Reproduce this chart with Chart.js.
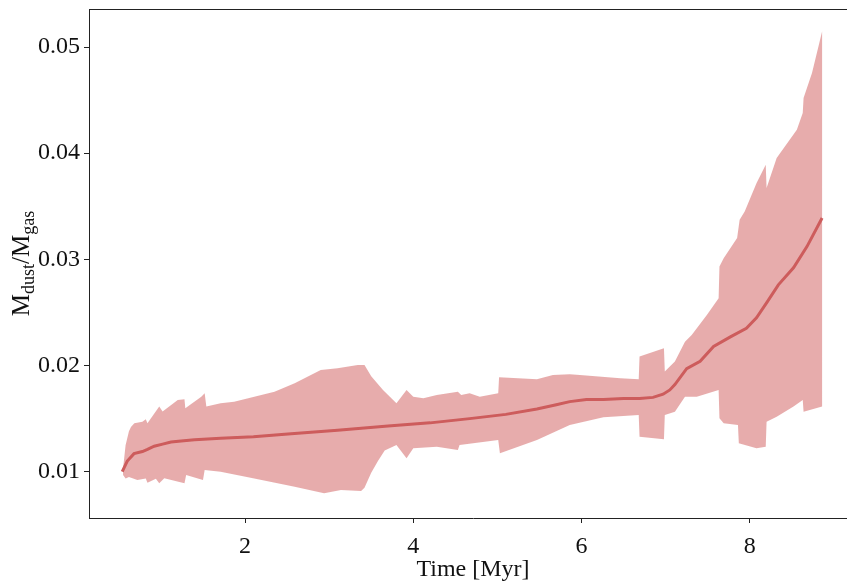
<!DOCTYPE html>
<html>
<head>
<meta charset="utf-8">
<script src="https://cdn.jsdelivr.net/npm/chart.js@4/dist/chart.umd.min.js"></script>
<style>
  html, body { margin: 0; padding: 0; background: #fff; overflow: hidden; width: 847px; height: 584px; }
  #wrap { position: absolute; left: 0; top: 0; width: 870px; height: 584px; }
</style>
</head>
<body>
<div id="wrap"><canvas id="c" width="870" height="584"></canvas></div>
<script>
// ---- data ----
const meanTime = [0.54, 0.60, 0.68, 0.78, 0.84, 0.92, 1.02, 1.12, 1.24, 1.40, 1.71, 2.10, 2.51, 3.10, 3.70, 4.20, 4.67, 5.10, 5.47, 5.70, 5.86, 6.06, 6.26, 6.50, 6.69, 6.85, 6.97, 7.05, 7.11, 7.25, 7.41, 7.57, 7.77, 7.96, 8.08, 8.20, 8.34, 8.52, 8.68, 8.86];
const meanRatio = [0.0100, 0.0110, 0.0117, 0.0119, 0.0121, 0.0124, 0.0126, 0.0128, 0.0129, 0.0130, 0.01315, 0.0133, 0.01355, 0.0139, 0.0143, 0.0146, 0.0150, 0.0154, 0.0159, 0.0163, 0.0166, 0.0168, 0.0168, 0.0169, 0.0169, 0.0170, 0.0173, 0.0177, 0.0182, 0.0197, 0.0204, 0.0218, 0.0227, 0.0235, 0.0245, 0.0259, 0.0276, 0.0292, 0.0312, 0.0339];

const upperTime = [0.55, 0.58, 0.62, 0.644, 0.684, 0.78, 0.82, 0.84, 0.98, 1.02, 1.20, 1.28, 1.29, 1.48, 1.52, 1.54, 1.71, 1.87, 2.11, 2.35, 2.59, 2.90, 3.10, 3.34, 3.42, 3.50, 3.64, 3.80, 3.92, 4.00, 4.12, 4.28, 4.53, 4.57, 4.67, 4.79, 5.01, 5.02, 5.47, 5.66, 5.86, 5.98, 6.46, 6.68, 6.69, 6.98, 6.99, 7.11, 7.23, 7.31, 7.49, 7.63, 7.64, 7.69, 7.85, 7.88, 7.94, 8.08, 8.19, 8.20, 8.32, 8.56, 8.63, 8.64, 8.74, 8.86];
const upperRatio = [0.0103, 0.0125, 0.0138, 0.0142, 0.01456, 0.01471, 0.01494, 0.01456, 0.01613, 0.01566, 0.01676, 0.01682, 0.01598, 0.01707, 0.01739, 0.01613, 0.01645, 0.0166, 0.01707, 0.01754, 0.01833, 0.01959, 0.01975, 0.02006, 0.02006, 0.0190, 0.0177, 0.01645, 0.0177, 0.01707, 0.01692, 0.01723, 0.01754, 0.01723, 0.01739, 0.01707, 0.01739, 0.0189, 0.01871, 0.01911, 0.01918, 0.01911, 0.0188, 0.0187, 0.02084, 0.02163, 0.01943, 0.02037, 0.02225, 0.02288, 0.02477, 0.02634, 0.02932, 0.03011, 0.032, 0.03372, 0.03451, 0.03718, 0.03891, 0.03671, 0.03954, 0.04221, 0.04378, 0.04519, 0.04755, 0.05147];

const lowerTime = [0.55, 0.58, 0.62, 0.72, 0.82, 0.84, 0.94, 0.98, 1.04, 1.28, 1.30, 1.50, 1.52, 1.71, 2.11, 2.59, 2.94, 3.14, 3.38, 3.42, 3.50, 3.58, 3.66, 3.80, 3.92, 4.00, 4.28, 4.53, 4.55, 5.01, 5.03, 5.47, 5.86, 6.26, 6.68, 6.69, 6.98, 6.99, 7.11, 7.23, 7.37, 7.63, 7.64, 7.69, 7.86, 7.87, 8.08, 8.19, 8.20, 8.32, 8.52, 8.63, 8.64, 8.86];
const lowerRatio = [0.0097, 0.00937, 0.0095, 0.00922, 0.00937, 0.00896, 0.00934, 0.00891, 0.00938, 0.00891, 0.00969, 0.00922, 0.01016, 0.0100, 0.00937, 0.00859, 0.00796, 0.00828, 0.00818, 0.0085, 0.0099, 0.0110, 0.0120, 0.01252, 0.01126, 0.01221, 0.01236, 0.01205, 0.01252, 0.01299, 0.01173, 0.01299, 0.0144, 0.01513, 0.01534, 0.0133, 0.01305, 0.01534, 0.01565, 0.01707, 0.01707, 0.0177, 0.01503, 0.01456, 0.0144, 0.01268, 0.0122, 0.01236, 0.01471, 0.01518, 0.01613, 0.01676, 0.01565, 0.01613];

const xTickValues = [2, 4, 6, 8];
const yTickValues = [0.01, 0.02, 0.03, 0.04, 0.05];
const xAxisTitle = 'Time [Myr]';
// y title parts: [text, isSubscript]
const yTitleParts = [['M', false], ['dust', true], ['/', false], ['M', false], ['gas', true]];

// ---- build datasets ----
const meanPoints = meanTime.map((t, i) => ({ x: t, y: meanRatio[i] }));
const bandPolygon = upperTime.map((t, i) => ({ x: t, y: upperRatio[i] }))
  .concat(lowerTime.map((t, i) => ({ x: t, y: lowerRatio[i] })).reverse());

const FONT = '"Liberation Serif", "Times New Roman", serif';

const framePlugin = {
  id: 'frame',
  afterDraw(chart) {
    const { ctx, chartArea: a } = chart;
    ctx.save();
    ctx.strokeStyle = '#222';
    ctx.lineWidth = 1;
    ctx.beginPath();
    ctx.moveTo(a.left, Math.round(a.top) + 0.5);
    ctx.lineTo(a.right, Math.round(a.top) + 0.5);
    ctx.lineTo(a.right, a.bottom);
    ctx.stroke();
    ctx.restore();
  }
};

const yTitlePlugin = {
  id: 'ytitle',
  afterDraw(chart) {
    const { ctx, chartArea: a } = chart;
    const big = 25, small = 18;
    ctx.save();
    ctx.fillStyle = '#111';
    ctx.textBaseline = 'alphabetic';
    ctx.textAlign = 'left';
    let total = 0;
    for (const [t, sub] of yTitleParts) {
      ctx.font = (sub ? small : big) + 'px ' + FONT;
      total += ctx.measureText(t).width;
    }
    const cy = (a.top + a.bottom) / 2;
    ctx.translate(29, cy);
    ctx.rotate(-Math.PI / 2);
    let x = -total / 2;
    for (const [t, sub] of yTitleParts) {
      ctx.font = (sub ? small : big) + 'px ' + FONT;
      ctx.fillText(t, x, sub ? 5 : 0);
      x += ctx.measureText(t).width;
    }
    ctx.restore();
  }
};

new Chart(document.getElementById('c'), {
  type: 'line',
  data: {
    datasets: [
      {
        label: 'mean',
        data: meanPoints,
        borderColor: '#cd5c5c',
        borderWidth: 3,
        pointRadius: 0,
        fill: false,
        tension: 0,
        order: 0
      },
      {
        label: 'range',
        data: bandPolygon,
        borderWidth: 0,
        pointRadius: 0,
        backgroundColor: 'rgba(208,90,90,0.5)',
        fill: 'shape',
        tension: 0,
        order: 1
      }
    ]
  },
  options: {
    responsive: false,
    animation: false,
    devicePixelRatio: 1,
    layout: { padding: { left: 0, top: 9, right: 13, bottom: 0 } },
    plugins: { legend: { display: false }, tooltip: { enabled: false } },
    scales: {
      x: {
        type: 'linear',
        min: 0.145,
        max: 9.275,
        afterBuildTicks: (s) => { s.ticks = xTickValues.map(v => ({ value: v })); },
        afterFit: (s) => { s.height = 66; s.paddingLeft = 0; s.paddingRight = 0; },
        ticks: {
          color: '#111',
          font: { family: FONT, size: 24 },
          padding: 9,
          maxRotation: 0,
          callback: (v) => String(v)
        },
        grid: { drawOnChartArea: false, drawTicks: true, tickLength: 5, color: '#222', tickWidth: 1 },
        border: { display: true, color: '#222', width: 1 },
        title: { display: true, text: xAxisTitle, color: '#111', font: { family: FONT, size: 24 }, padding: { top: 0, bottom: 0 } }
      },
      y: {
        type: 'linear',
        min: 0.00564,
        max: 0.05358,
        afterBuildTicks: (s) => { s.ticks = yTickValues.map(v => ({ value: v })); },
        afterFit: (s) => { s.width = 89; s.paddingTop = 0; s.paddingBottom = 0; },
        ticks: {
          color: '#111',
          font: { family: FONT, size: 24 },
          padding: 4,
          callback: (v) => v.toFixed(2)
        },
        grid: { drawOnChartArea: false, drawTicks: true, tickLength: 5, color: '#222', tickWidth: 1 },
        border: { display: true, color: '#222', width: 1 }
      }
    }
  },
  plugins: [framePlugin, yTitlePlugin]
});
</script>
</body>
</html>
